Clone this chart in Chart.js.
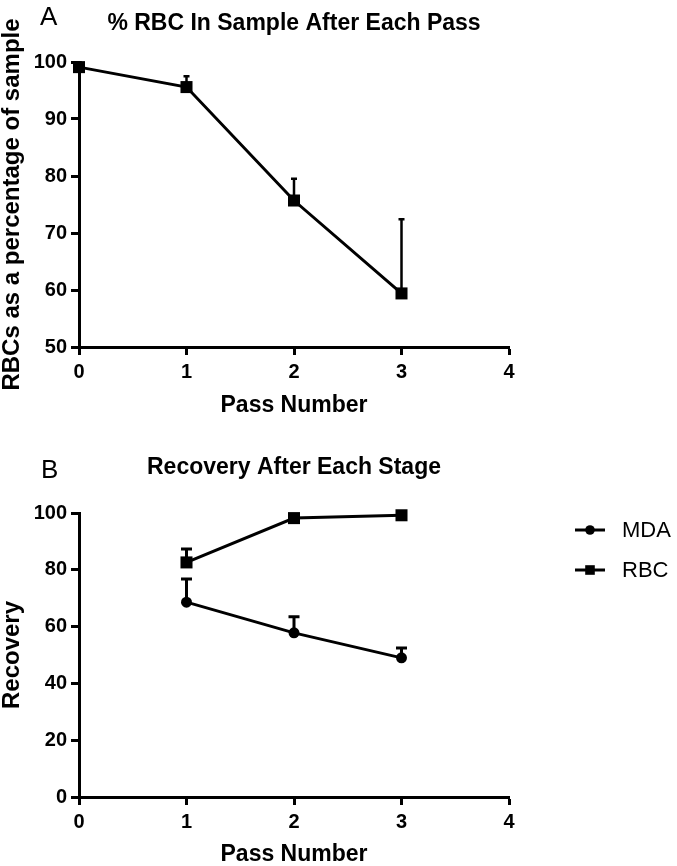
<!DOCTYPE html>
<html>
<head>
<meta charset="utf-8">
<script src="https://cdn.jsdelivr.net/npm/chart.js@4.4.1/dist/chart.umd.min.js"></script>
<style>
    html, body { margin: 0; padding: 0; background: #fff; }
    #wrap { position: relative; width: 677px; height: 866px; }
    canvas { position: absolute; left: 0; }
    #chartA { top: 0; }
    #chartB { top: 430px; }
</style>
</head>
<body>
<div id="wrap">
    <canvas id="chartA" width="677" height="430"></canvas>
    <canvas id="chartB" width="677" height="436"></canvas>
</div>
<script>
// panel A: % RBC in sample after each pass
const passNumbers = [0, 1, 2, 3];
const rbcPercent = [99.1, 95.6, 75.7, 59.4];
const rbcPercentErr = [0.8, 1.9, 3.8, 13.0];

// panel B: recovery after each stage
const stagePasses = [1, 2, 3];
const mdaRecovery = [68.6, 57.8, 49.0];
const mdaRecoveryErr = [8.2, 5.7, 3.5];
const rbcRecovery = [82.6, 98.2, 99.2];
const rbcRecoveryErr = [4.7, 0.5, 0.4];

const xTicks = [0, 1, 2, 3, 4];
const yTicksA = [50, 60, 70, 80, 90, 100];
const yTicksB = [0, 20, 40, 60, 80, 100];

Chart.defaults.font.family = "'Liberation Sans', Arial, sans-serif";
Chart.defaults.color = "#000";

const toPoints = (xs, ys) => xs.map((x, i) => ({ x: x, y: ys[i] }));

// one-sided (upper) error bars
const errorBarPlugin = {
    id: "errorBars",
    afterDatasetsDraw(chart) {
        const ctx = chart.ctx;
        const yScale = chart.scales.y;
        chart.data.datasets.forEach((ds, i) => {
            if (!ds.errorBars) return;
            const meta = chart.getDatasetMeta(i);
            const cap = ds.errorCapWidth / 2;
            ctx.save();
            ctx.strokeStyle = "#000";
            ctx.lineWidth = ds.errorLineWidth;
            meta.data.forEach((pt, j) => {
                const top = yScale.getPixelForValue(ds.data[j].y + ds.errorBars[j]);
                ctx.beginPath();
                ctx.moveTo(pt.x, pt.y);
                ctx.lineTo(pt.x, top);
                ctx.moveTo(pt.x - cap, top);
                ctx.lineTo(pt.x + cap, top);
                ctx.stroke();
            });
            ctx.restore();
        });
    }
};

// "A" / "B" panel letters
const panelLabelPlugin = {
    id: "panelLabel",
    afterDraw(chart, args, opts) {
        if (!opts.text) return;
        const ctx = chart.ctx;
        ctx.save();
        ctx.fillStyle = "#000";
        ctx.font = "26px 'Liberation Sans', Arial, sans-serif";
        ctx.textBaseline = "alphabetic";
        ctx.fillText(opts.text, opts.x, opts.y);
        ctx.restore();
    }
};

// legend beside the plot: line + marker + label
const sideLegendPlugin = {
    id: "sideLegend",
    afterDraw(chart, args, opts) {
        if (!opts.display) return;
        const ctx = chart.ctx;
        chart.data.datasets.forEach((ds, i) => {
            const y = opts.y + i * opts.spacing;
            const cx = opts.x + opts.lineLength / 2;
            ctx.save();
            ctx.strokeStyle = "#000";
            ctx.fillStyle = "#000";
            ctx.lineWidth = 3;
            ctx.beginPath();
            ctx.moveTo(opts.x, y);
            ctx.lineTo(opts.x + opts.lineLength, y);
            ctx.stroke();
            if (ds.pointStyle === "circle") {
                ctx.beginPath();
                ctx.arc(cx, y, 4.8, 0, Math.PI * 2);
                ctx.fill();
            } else {
                ctx.fillRect(cx - 4.8, y - 4.8, 9.6, 9.6);
            }
            ctx.font = "22px 'Liberation Sans', Arial, sans-serif";
            ctx.textBaseline = "middle";
            ctx.fillText(ds.label, opts.textX, y + 1);
            ctx.restore();
        });
    }
};

function xAxis(height, titlePadBottom) {
    return {
        type: "linear",
        min: 0,
        max: 4,
        afterBuildTicks: (scale) => {
            scale.ticks = xTicks.map((v) => ({ value: v }));
        },
        afterFit: (scale) => {
            scale.height = height;
            scale.paddingLeft = 0;
            scale.paddingRight = 0;
        },
        grid: {
            drawOnChartArea: false,
            drawTicks: true,
            tickLength: 8,
            tickWidth: 3,
            tickColor: "#000",
        },
        border: { display: true, width: 3, color: "#000" },
        ticks: {
            font: { size: 20, weight: "bold" },
            padding: 5,
            maxRotation: 0,
            color: "#000",
        },
        title: {
            display: true,
            text: "Pass Number",
            font: { size: 23, weight: "bold", lineHeight: 1 },
            padding: { top: 0, bottom: titlePadBottom },
            color: "#000",
        },
    };
}

function yAxis(min, max, tickValues, titleText) {
    return {
        type: "linear",
        min: min,
        max: max,
        afterBuildTicks: (scale) => {
            scale.ticks = tickValues.map((v) => ({ value: v }));
        },
        afterFit: (scale) => {
            scale.width = 79;
            scale.paddingTop = 0;
            scale.paddingBottom = 0;
        },
        grid: {
            drawOnChartArea: false,
            drawTicks: true,
            tickLength: 8,
            tickWidth: 3,
            tickColor: "#000",
        },
        border: { display: true, width: 3, color: "#000" },
        ticks: {
            font: { size: 20, weight: "bold" },
            padding: 4,
            color: "#000",
        },
        title: {
            display: true,
            text: titleText,
            font: { size: 24, weight: "bold", lineHeight: 1 },
            padding: 0,
            color: "#000",
        },
    };
}

const lineStyle = {
    borderColor: "#000",
    backgroundColor: "#000",
    pointBackgroundColor: "#000",
    pointBorderColor: "#000",
    pointBorderWidth: 0,
    borderWidth: 3,
    tension: 0,
    fill: false,
    clip: false,
};

new Chart(document.getElementById("chartA"), {
    type: "line",
    data: {
        datasets: [
            {
                ...lineStyle,
                label: "RBC",
                data: toPoints(passNumbers, rbcPercent),
                pointStyle: "rect",
                pointRadius: 8.5,
                errorBars: rbcPercentErr,
                errorLineWidth: 2.5,
                errorCapWidth: 6,
            },
        ],
    },
    options: {
        responsive: false,
        animation: false,
        layout: { padding: { left: 0, right: 168, top: 0, bottom: 0 } },
        plugins: {
            legend: { display: false },
            tooltip: { enabled: false },
            title: {
                display: true,
                text: "% RBC In Sample After Each Pass",
                fullSize: false,
                font: { size: 23, weight: "bold", lineHeight: 1.2 },
                padding: { top: 9.7, bottom: 24.7 },
                color: "#000",
            },
            panelLabel: { text: "A", x: 40, y: 25 },
        },
        scales: {
            x: xAxis(83, 12.5),
            y: yAxis(50, 100, yTicksA, "RBCs as a percentage of sample"),
        },
    },
    plugins: [errorBarPlugin, panelLabelPlugin],
});

new Chart(document.getElementById("chartB"), {
    type: "line",
    data: {
        datasets: [
            {
                ...lineStyle,
                label: "MDA",
                data: toPoints(stagePasses, mdaRecovery),
                pointStyle: "circle",
                pointRadius: 5.5,
                errorBars: mdaRecoveryErr,
                errorLineWidth: 3,
                errorCapWidth: 11,
            },
            {
                ...lineStyle,
                label: "RBC",
                data: toPoints(stagePasses, rbcRecovery),
                pointStyle: "rect",
                pointRadius: 8.5,
                errorBars: rbcRecoveryErr,
                errorLineWidth: 3,
                errorCapWidth: 11,
            },
        ],
    },
    options: {
        responsive: false,
        animation: false,
        layout: { padding: { left: 0, right: 168, top: 0, bottom: 0 } },
        plugins: {
            legend: { display: false },
            tooltip: { enabled: false },
            title: {
                display: true,
                text: "Recovery After Each Stage",
                fullSize: false,
                font: { size: 23, weight: "bold", lineHeight: 1.2 },
                padding: { top: 24.2, bottom: 31.2 },
                color: "#000",
            },
            panelLabel: { text: "B", x: 41, y: 48 },
            sideLegend: { display: true, x: 575, y: 100, spacing: 40, lineLength: 30, textX: 622 },
        },
        scales: {
            x: xAxis(69, 0),
            y: yAxis(0, 100, yTicksB, "Recovery"),
        },
    },
    plugins: [errorBarPlugin, panelLabelPlugin, sideLegendPlugin],
});
</script>
</body>
</html>
